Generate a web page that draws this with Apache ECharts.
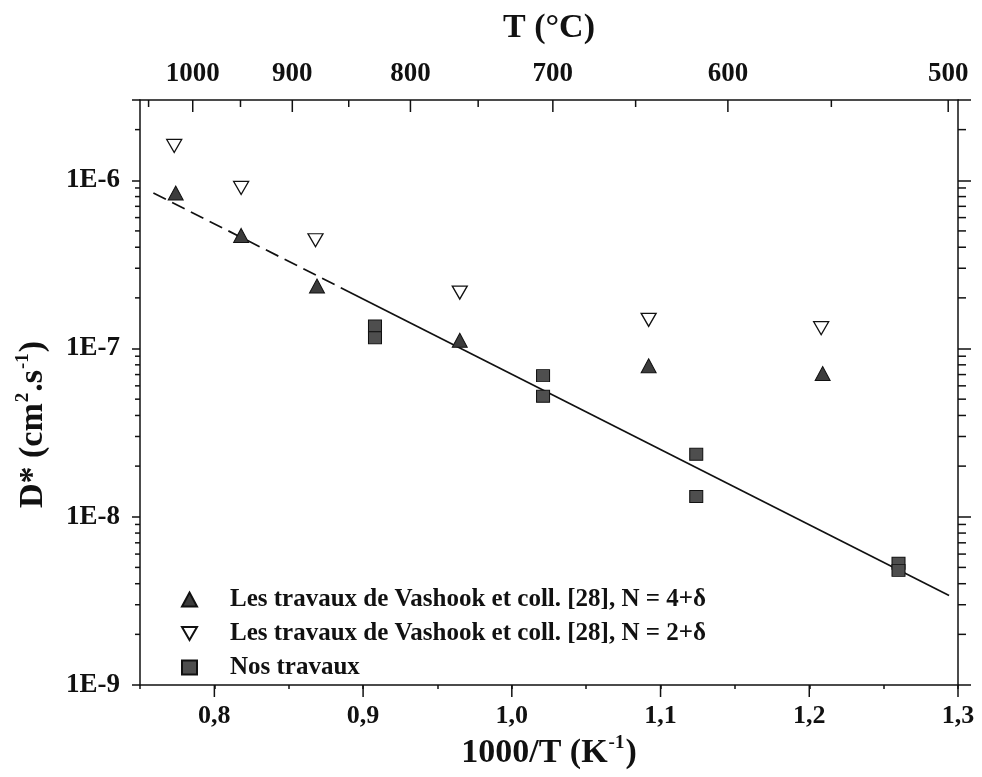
<!DOCTYPE html>
<html><head><meta charset="utf-8">
<script src="https://cdn.jsdelivr.net/npm/echarts@6/dist/echarts.min.js"></script>
<style>html,body{margin:0;padding:0;background:#fff}#c{width:982px;height:777px}</style>
</head><body><div id="c"></div>
<script>
// ---- data ----
const xTickValues = [0.8, 0.9, 1.0, 1.1, 1.2, 1.3];
const topTempLabels = [1000, 900, 800, 700, 600, 500];
const topTempMinor = [1050, 950, 850, 750, 650, 550];

const vashook4X = [0.774, 0.818, 0.869, 0.965, 1.092, 1.209];
const vashook4Y = [8.4e-7, 4.7e-7, 2.35e-7, 1.12e-7, 7.9e-8, 7.1e-8];

const vashook2X = [0.773, 0.818, 0.868, 0.965, 1.092, 1.208];
const vashook2Y = [1.6e-6, 9.0e-7, 4.4e-7, 2.15e-7, 1.48e-7, 1.32e-7];

const nosX = [0.908, 0.908, 1.021, 1.021, 1.124, 1.124, 1.26, 1.26];
const nosY = [1.36e-7, 1.16e-7, 6.9e-8, 5.2e-8, 2.35e-8, 1.32e-8, 5.3e-9, 4.8e-9];

const fitDashedX = [0.759, 0.885];
const fitDashedY = [8.4e-7, 2.3e-7];
const fitSolidX = [0.885, 1.294];
const fitSolidY = [2.3e-7, 3.4e-9];

const seriesNames = [
  'Les travaux de Vashook et coll. [28], N = 4+δ',
  'Les travaux de Vashook et coll. [28], N = 2+δ',
  'Nos travaux'
];

const X_MIN = 0.75, X_MAX = 1.3, Y_MIN = 1e-9, Y_MAX = 3e-6;

// ---- build ----
const FONT = "'Liberation Serif','Times New Roman',serif";
const INK = '#111';
const zip = (xs, ys) => xs.map((x, i) => [x, ys[i]]);

const minorY = [];
for (let e = -9; e <= -6; e++) {
  for (let m = 2; m <= 9; m++) {
    const v = Number((m * Math.pow(10, e)).toPrecision(3));
    if (v < Y_MAX) minorY.push(v);
  }
}
const invT = t => 1000 / (t + 273.15);

const tickSeries = (extra) => Object.assign({
  type: 'scatter', silent: true, clip: false, animation: false, z: 5,
  itemStyle: { color: INK, opacity: 1 }, emphasis: { disabled: true }, tooltip: { show: false }
}, extra);

const richTitle = {
  n: { fontFamily: FONT, fontWeight: 'bold', fontSize: 34, color: INK, lineHeight: 38 },
  s: { fontFamily: FONT, fontWeight: 'bold', fontSize: 19, color: INK, verticalAlign: 'top', lineHeight: 38, padding: [0, 1, 15, 1] }
};

const chart = echarts.init(document.getElementById('c'), null, { renderer: 'canvas' });
chart.setOption({
  animation: false,
  backgroundColor: '#fff',
  grid: { left: 140, right: 24, top: 100, bottom: 92 },
  legend: {
    orient: 'vertical', left: 176, top: 582, itemGap: 9,
    itemWidth: 15, itemHeight: 14,
    data: seriesNames,
    textStyle: { fontFamily: FONT, fontWeight: 'bold', fontSize: 25, color: INK, lineHeight: 25, padding: [0, 0, 0, 28] },
    selectedMode: false
  },
  xAxis: [
    {
      type: 'value', position: 'bottom', min: X_MIN, max: X_MAX, interval: 0.05,
      axisLine: { lineStyle: { color: INK, width: 1.5 } },
      axisTick: { length: 4, lineStyle: { color: INK, width: 1.5 } },
      splitLine: { show: false },
      axisLabel: {
        margin: 18, color: INK, fontFamily: FONT, fontWeight: 'bold', fontSize: 26,
        formatter: v => xTickValues.some(t => Math.abs(t - v) < 1e-6) ? v.toFixed(1).replace('.', ',') : ''
      },
      name: '{n|1000/T (K}{s|-1}{n|)}',
      nameLocation: 'middle', nameGap: 46,
      nameTextStyle: { rich: richTitle }
    },
    {
      type: 'value', position: 'top', min: X_MIN, max: X_MAX,
      axisLine: { lineStyle: { color: INK, width: 1.5 } },
      axisTick: { show: false }, axisLabel: { show: false }, splitLine: { show: false },
      name: 'T (°C)', nameLocation: 'middle', nameGap: 55,
      nameTextStyle: { fontFamily: FONT, fontWeight: 'bold', fontSize: 34, color: INK }
    }
  ],
  yAxis: [
    {
      type: 'log', logBase: 10, min: Y_MIN, max: Y_MAX, position: 'left',
      axisLine: { show: true, lineStyle: { color: INK, width: 1.5 } },
      axisTick: { show: true, length: 8, lineStyle: { color: INK, width: 1.5 } },
      splitLine: { show: false },
      axisLabel: {
        margin: 20, color: INK, fontFamily: FONT, fontWeight: 'bold', fontSize: 27,
        formatter: v => { const e = Math.log10(v); return Math.abs(e - Math.round(e)) < 1e-6 ? '1E' + Math.round(e) : ''; }
      },
      name: '{n|D* (cm}{s|2}{n|.s}{s|-1}{n|)}',
      nameLocation: 'middle', nameGap: 88,
      nameTextStyle: { rich: richTitle, padding: [0, 64, 0, 0] }
    },
    {
      type: 'log', logBase: 10, min: Y_MIN, max: Y_MAX, position: 'right',
      axisLine: { show: true, lineStyle: { color: INK, width: 1.5 } },
      axisTick: { show: true, length: 13, lineStyle: { color: INK, width: 1.5 } },
      axisLabel: { show: false }, splitLine: { show: false }
    }
  ],
  series: [
    {
      name: seriesNames[0], type: 'scatter', data: zip(vashook4X, vashook4Y),
      symbol: 'triangle', symbolSize: [15, 14], z: 4,
      itemStyle: { color: '#3c3c3c', borderColor: INK, borderWidth: 1, opacity: 1 }
    },
    {
      name: seriesNames[1], type: 'scatter', data: zip(vashook2X, vashook2Y),
      symbol: 'path://M0,0 L10,0 L5,8.66 Z', symbolSize: [15, 13], z: 4,
      itemStyle: { color: '#fff', borderColor: INK, borderWidth: 1.3, opacity: 1 }
    },
    {
      name: seriesNames[2], type: 'scatter', data: zip(nosX, nosY),
      symbol: 'rect', symbolSize: [13, 12], z: 4,
      itemStyle: { color: '#4e4e4e', borderColor: INK, borderWidth: 1, opacity: 1 }
    },
    {
      name: 'fit-dashed', type: 'line', data: zip(fitDashedX, fitDashedY), symbol: 'none', z: 3,
      lineStyle: { color: INK, width: 1.7, type: [14, 7] }
    },
    {
      name: 'fit-solid', type: 'line', data: zip(fitSolidX, fitSolidY), symbol: 'none', z: 3,
      lineStyle: { color: INK, width: 1.7 }
    },
    tickSeries({
      name: 'bx', data: xTickValues.map(v => [v, Y_MIN]),
      symbol: 'rect', symbolSize: [1.5, 12], symbolOffset: [0, 6]
    }),
    tickSeries({
      name: 'tx', xAxisIndex: 1,
      data: topTempLabels.map(t => ({ name: String(t), value: [invT(t), Y_MAX] })),
      symbol: 'rect', symbolSize: [1.5, 12], symbolOffset: [0, 6],
      label: {
        show: true, position: 'top', distance: 12, formatter: p => p.name,
        fontFamily: FONT, fontWeight: 'bold', fontSize: 27, color: INK
      }
    }),
    tickSeries({
      name: 'txm', xAxisIndex: 1,
      data: topTempMinor.map(t => [invT(t), Y_MAX]).filter(d => d[0] >= X_MIN),
      symbol: 'rect', symbolSize: [1.5, 7], symbolOffset: [0, 3.5]
    }),
    tickSeries({
      name: 'ly', data: minorY.map(v => [X_MIN, v]),
      symbol: 'rect', symbolSize: [5, 1.5], symbolOffset: [-2.5, 0]
    }),
    tickSeries({
      name: 'ry', data: minorY.map(v => [X_MAX, v]),
      symbol: 'rect', symbolSize: [8, 1.5], symbolOffset: [4, 0]
    })
  ]
});
</script>
</body></html>
